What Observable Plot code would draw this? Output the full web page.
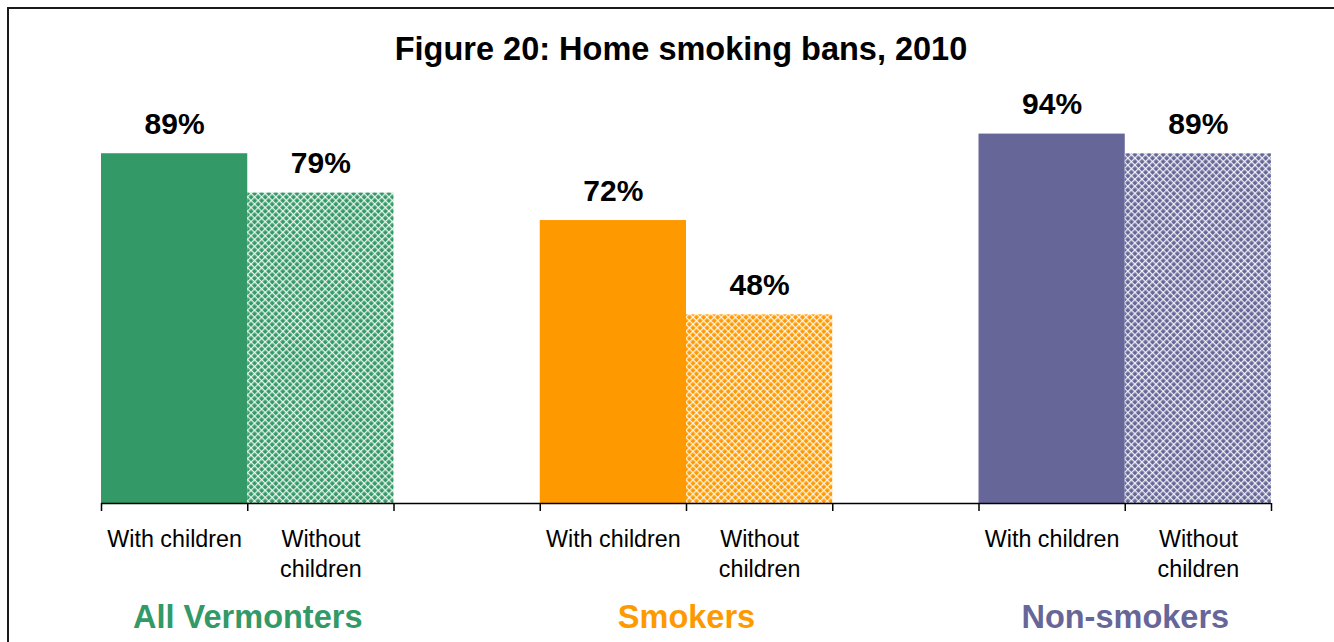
<!DOCTYPE html>
<html><head><meta charset="utf-8">
<script src="https://cdn.jsdelivr.net/npm/d3@7"></script>
<script src="https://cdn.jsdelivr.net/npm/@observablehq/plot@0.6"></script>
<style>
html,body{margin:0;padding:0;background:#fff;overflow:hidden;}
#wrap{position:relative;width:1334px;height:642px;overflow:hidden;font-family:"Liberation Sans",Arial,sans-serif;}
#frame{position:absolute;left:7px;top:7px;width:1400px;height:800px;border:2px solid #1a1a1a;box-sizing:border-box;}
#title{position:absolute;left:0;top:33px;width:1362px;text-align:center;font-weight:bold;font-size:32.5px;line-height:1;color:#000;}
#chart{position:absolute;left:0;top:90px;}
</style></head>
<body><div id="wrap"><div id="frame"></div><div id="title"></div><div id="chart"></div></div>
<script>
const titleText = "Figure 20: Home smoking bans, 2010";
const groups = ["All Vermonters", "Smokers", "Non-smokers"];
const subgroups = ["With children", "Without\nchildren"];
const withChildren = [89, 72, 94];
const withoutChildren = [79, 48, 89];
const groupColors = ["#339966", "#FF9900", "#666699"];
const slotBoundaries = [0, 1, 2, 3, 4, 5, 6, 7, 8];

document.getElementById("title").textContent = titleText;

// Each group occupies 2 slots followed by 1 empty slot
const rows = [];
groups.forEach((g, i) => {
  rows.push({group: g, sub: subgroups[0], value: withChildren[i], slot: i * 3, fill: groupColors[i]});
  rows.push({group: g, sub: subgroups[1], value: withoutChildren[i], slot: i * 3 + 1, fill: `url(#pat${i})`});
});
const groupRows = groups.map((g, i) => ({group: g, center: i * 3 + 1, color: groupColors[i]}));

const chart = Plot.plot({
  width: 1334,
  height: 552,
  marginLeft: 101,
  marginRight: 63,
  marginTop: 20,
  marginBottom: 139,
  style: {fontFamily: "'Liberation Sans', Arial, sans-serif", color: "#000", background: "transparent", overflow: "visible"},
  x: {type: "linear", domain: [0, 8]},
  y: {domain: [0, 100], axis: null},
  marks: [
    Plot.rectY(rows, {x1: "slot", x2: d => d.slot + 1, y: "value", fill: "fill"}),
    Plot.axisX({ticks: slotBoundaries, tickSize: 8, tickFormat: () => "", stroke: "#000", strokeWidth: 1.5, anchor: "bottom"}),
    Plot.ruleY([0], {stroke: "#000", strokeWidth: 1.5}),
    Plot.text(rows, {x: d => d.slot + 0.5, y: "value", text: d => d.value + "%", lineAnchor: "bottom", dy: -20, fontSize: 30, fontWeight: "bold", fill: "#000"}),
    Plot.text(rows, {x: d => d.slot + 0.5, y: 0, text: "sub", lineAnchor: "top", dy: 23, fontSize: 23.3, lineHeight: 1.26, fill: "#000"}),
    Plot.text(groupRows, {x: "center", y: 0, text: "group", lineAnchor: "top", dy: 101, fontSize: 32.5, fontWeight: "bold", fill: "color"})
  ]
});

// hatch patterns for "without children" bars
const defs = d3.select(chart).insert("defs", ":first-child");
groupColors.forEach((c, i) => {
  const p = defs.append("pattern")
    .attr("id", `pat${i}`)
    .attr("patternUnits", "userSpaceOnUse")
    .attr("width", 5).attr("height", 5)
    .attr("patternTransform", "rotate(45)");
  p.append("rect").attr("width", 5).attr("height", 5).attr("fill", c);
  p.append("rect").attr("width", 1.3).attr("height", 5).attr("fill", "#fff").attr("fill-opacity", 0.85);
  p.append("rect").attr("width", 5).attr("height", 1.3).attr("fill", "#fff").attr("fill-opacity", 0.85);
});

document.getElementById("chart").appendChild(chart);
</script>
</body></html>
